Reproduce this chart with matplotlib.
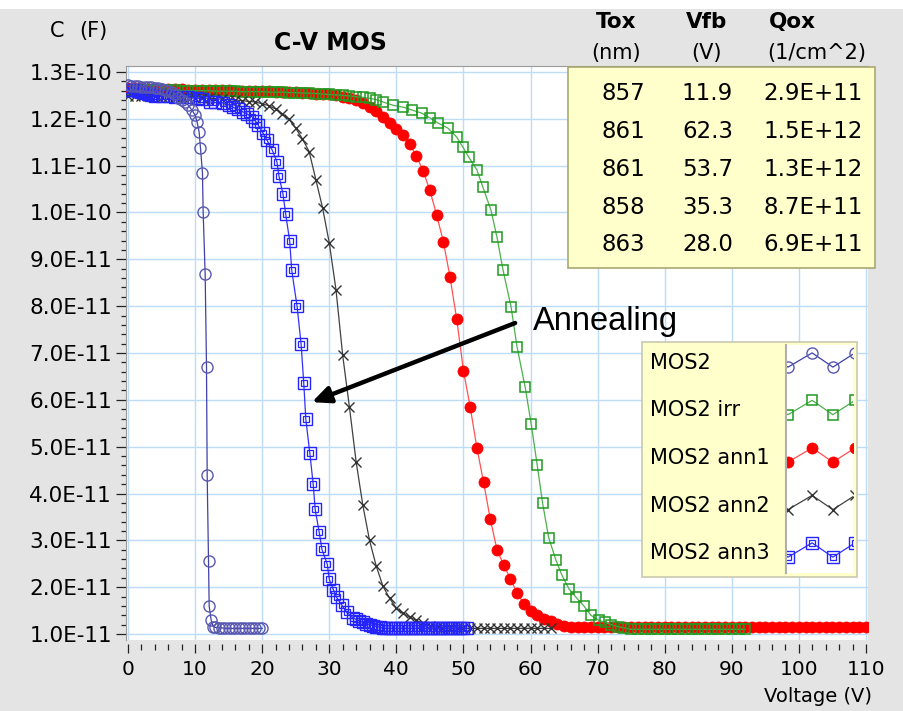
import matplotlib
matplotlib.use("Agg")
import matplotlib.pyplot as plt
from matplotlib.patches import Rectangle
from matplotlib.ticker import MultipleLocator, FuncFormatter

# capacitance values are in units of 1E-11 F
UNIT = 1e-11

# MOS2 (as made)
mos2_v = [0.0, 0.5, 1.0, 1.5, 2.0, 2.5, 3.0, 3.5, 4.0, 4.5, 5.0, 5.5, 6.0, 6.5, 7.0, 7.5,
          8.0, 8.5, 9.0, 9.5, 10.0, 10.3, 10.6, 10.8, 11.1, 11.2, 11.5, 11.7, 11.8, 12.0,
          12.1, 12.4, 12.7, 13.0, 13.5, 14.0, 14.5, 15.0, 15.5, 16.0, 16.5, 17.0, 17.5,
          18.0, 18.5, 19.0, 19.5, 20.0]
mos2_c = [12.72, 12.71, 12.70, 12.70, 12.69, 12.68, 12.68, 12.67, 12.66, 12.65, 12.64,
          12.62, 12.60, 12.57, 12.52, 12.45, 12.40, 12.35, 12.29, 12.19, 12.08, 11.93,
          11.72, 11.38, 10.84, 10.01, 8.68, 6.70, 4.39, 2.55, 1.59, 1.29, 1.16, 1.14,
          1.13, 1.13, 1.12, 1.12, 1.12, 1.12, 1.12, 1.12, 1.12, 1.12, 1.12, 1.12, 1.12, 1.12]

# MOS2 irradiated
irr_v = [0, 1, 2, 3, 4, 5, 6, 7, 8, 9, 10, 11, 12, 13, 14, 15, 16, 17, 18, 19, 20, 21, 22,
         23, 24, 25, 26, 27, 28, 29, 30, 31, 32, 33, 34, 35, 36, 37,
         38.0, 39.5, 41.0, 42.3, 43.8, 45.0, 46.2, 47.7, 49.0, 49.9, 50.8, 52.0, 52.9, 54.1,
         55.0, 55.9, 57.1, 58.0, 59.2, 60.1, 61.0, 61.8, 62.7, 63.8, 64.7, 65.7, 66.8, 68.0,
         69.0, 70.2, 71.1, 72.0, 73.0, 74.0,
         75, 76, 77, 78, 79, 80, 81, 82, 83, 84, 85, 86, 87, 88, 89, 90, 91, 92]
irr_c = [12.62, 12.62, 12.62, 12.62, 12.61, 12.61, 12.61, 12.61, 12.60, 12.60,
         12.60, 12.60, 12.60, 12.59, 12.59, 12.59, 12.59, 12.58, 12.58, 12.58,
         12.58, 12.57, 12.57, 12.57, 12.56, 12.56, 12.55, 12.55, 12.54, 12.53,
         12.52, 12.51, 12.50, 12.49, 12.47, 12.46, 12.44, 12.41,
         12.36, 12.29, 12.25, 12.19, 12.12, 12.02, 11.91, 11.80, 11.61, 11.40,
         11.18, 10.91, 10.54, 10.05, 9.47, 8.77, 7.98, 7.12, 6.27, 5.48,
         4.60, 3.79, 3.06, 2.57, 2.25, 1.97, 1.78, 1.59, 1.40, 1.29,
         1.25, 1.20, 1.16, 1.13,
         1.10, 1.10, 1.10, 1.10, 1.10, 1.10, 1.10, 1.10, 1.10, 1.10, 1.10, 1.10,
         1.10, 1.10, 1.10, 1.10, 1.10, 1.10]

# MOS2 anneal 1
ann1_v = [0, 1, 2, 3, 4, 5, 6, 7, 8, 9, 10, 11, 12, 13, 14, 15, 16, 17, 18, 19, 20,
          21, 22, 23, 24, 25, 26, 27, 28, 29, 30, 31, 32, 33, 34, 35, 36, 37, 38, 39, 40,
          41, 42, 43, 44, 45, 46, 47, 48, 49, 50, 51, 52, 53, 54, 55, 56, 57, 58, 59, 60,
          61, 62, 63, 64, 65, 66, 67, 68, 69, 70, 71, 72, 73, 74, 75, 76, 77, 78, 79, 80,
          81, 82, 83, 84, 85, 86, 87, 88, 89, 90, 91, 92, 93, 94, 95, 96, 97, 98, 99, 100,
          101, 102, 103, 104, 105, 106, 107, 108, 109, 110]
ann1_c = [12.65, 12.65, 12.65, 12.64, 12.64, 12.64, 12.63, 12.63, 12.63, 12.62, 12.62,
          12.62, 12.62, 12.61, 12.61, 12.61, 12.60, 12.60, 12.60, 12.59, 12.59,
          12.59, 12.58, 12.58, 12.57, 12.57, 12.56, 12.55, 12.54, 12.53, 12.52,
          12.50, 12.47, 12.44, 12.40, 12.34, 12.26, 12.16,
          12.04, 11.92, 11.79, 11.65, 11.46, 11.20, 10.88, 10.47, 9.95, 9.38,
          8.62, 7.72, 6.62, 5.85, 4.98, 4.24, 3.45, 2.80, 2.47, 2.18,
          1.87, 1.65, 1.50, 1.40, 1.33, 1.27, 1.21, 1.17, 1.15,
          1.14, 1.14, 1.14, 1.14, 1.14, 1.14, 1.14, 1.14, 1.14, 1.14, 1.14,
          1.14, 1.14, 1.14, 1.14, 1.14, 1.14, 1.14, 1.14, 1.14, 1.14, 1.14,
          1.14, 1.14, 1.14, 1.14, 1.14, 1.14, 1.14, 1.14, 1.14, 1.14, 1.14,
          1.14, 1.14, 1.14, 1.14, 1.14, 1.14, 1.14, 1.14, 1.14, 1.14, 1.14]

# MOS2 anneal 2
ann2_v = [0, 1, 2, 3, 4, 5, 6, 7, 8, 9, 10, 11, 12, 13, 14, 15, 16, 17, 18, 19, 20,
          21, 22, 23, 24, 25, 26, 27, 28, 29, 30, 31, 32, 33, 34, 35, 36, 37, 38, 39, 40,
          41, 42, 43, 44, 45, 46, 47, 48, 49, 50, 51, 52, 53, 54, 55, 56, 57, 58, 59, 60,
          61, 62, 63]
ann2_c = [12.49, 12.49, 12.48, 12.48, 12.48, 12.47, 12.47, 12.46, 12.46, 12.45,
          12.45, 12.44, 12.44, 12.43, 12.42, 12.41, 12.40, 12.39, 12.37, 12.36,
          12.32, 12.28, 12.21, 12.11, 11.99, 11.80, 11.57, 11.30, 10.70, 10.10,
          9.35, 8.35, 6.95, 5.85, 4.68, 3.75, 3.00, 2.45, 2.02, 1.76,
          1.55, 1.44, 1.36, 1.29, 1.23, 1.17, 1.14,
          1.12, 1.12, 1.12, 1.12, 1.12, 1.12, 1.12, 1.12, 1.12, 1.12, 1.12, 1.12,
          1.12, 1.12, 1.12, 1.12, 1.12]

# MOS2 anneal 3
ann3_v = [0.0, 0.5, 1.0, 1.5, 2.0, 2.5, 3.0, 3.5, 4.0, 5.0, 6.0, 7.0, 8.0, 9.0, 10.3, 11.0,
          12.2, 13.0, 14.2, 15.0, 15.6, 16.4, 17.1, 17.8, 18.5, 19.0, 19.4, 20.1, 20.7,
          21.5, 22.2, 22.5, 23.1, 23.5, 24.1, 24.4, 25.2, 25.8, 26.2, 26.5, 27.1, 27.6,
          27.9, 28.5, 28.9, 29.7, 30.0, 30.6, 31.1, 31.9, 32.6, 33.5, 34.0, 34.5, 35.0,
          35.5, 36.0, 36.5, 37.0, 37.5, 38.0, 38.5, 39.0, 39.5, 40.0, 40.5, 41.0, 41.5,
          42.0, 42.5, 43.0, 43.5, 44.0, 44.5, 45.0, 45.5, 46.0, 46.5, 47.0, 47.5, 48.0,
          48.5, 49.0, 49.5, 50.0, 50.5]
ann3_c = [12.62, 12.62, 12.61, 12.60, 12.58, 12.55, 12.52, 12.50, 12.49, 12.48, 12.48,
          12.47, 12.47, 12.46, 12.44, 12.42, 12.36, 12.35, 12.34, 12.30, 12.25, 12.20,
          12.15, 12.10, 12.04, 11.95, 11.87, 11.70, 11.55, 11.33, 11.08, 10.78, 10.39,
          9.97, 9.39, 8.77, 8.00, 7.19, 6.35, 5.59, 4.86, 4.20, 3.66, 3.17, 2.81, 2.49,
          2.17, 1.95, 1.78, 1.61, 1.46, 1.35, 1.31, 1.28, 1.25, 1.22, 1.20, 1.18, 1.16,
          1.15, 1.12, 1.12, 1.12, 1.12, 1.12, 1.12, 1.12, 1.12, 1.12, 1.12, 1.12, 1.12,
          1.12, 1.12, 1.12, 1.12, 1.12, 1.12, 1.12, 1.12, 1.12, 1.12, 1.12, 1.12, 1.12,
          1.12]

labels = ["MOS2", "MOS2 irr", "MOS2 ann1", "MOS2 ann2", "MOS2 ann3"]

# fitted parameters shown in the table
tox = [857, 861, 861, 858, 863]
vfb = [11.9, 62.3, 53.7, 35.3, 28.0]
qox = [2.9e11, 1.5e12, 1.3e12, 8.7e11, 6.9e11]

W, H = 904, 711
def fx(px):
    return px / W
def fy(py):
    return 1 - py / H

# marker styles for each series (legend order)
styles = [
    dict(color="#4040a8", lw=0.9, marker="o", ms=8, mfc="none", mec="#5858b0", mew=1.0),
    dict(color="#4cb04c", lw=0.9, marker="s", ms=7.5, mfc="none", mec="#1f9a1f", mew=1.1),
    dict(color="#ff5050", lw=0.9, marker="o", ms=8, mfc="#ff0000", mec="#ff0000", mew=0.5),
    dict(color="#404040", lw=0.9, marker="x", ms=7.5, mfc="none", mec="#333333", mew=1.0),
    dict(color="#3030ff", lw=0.9, marker="s", ms=8.5, mfc="none", mec="#2424ff", mew=1.0),
]
inner_sq = dict(ls="none", marker="s", ms=4.5, mfc="none", mec="#2424ff", mew=0.9)

series = [(mos2_v, mos2_c), (irr_v, irr_c), (ann1_v, ann1_c), (ann2_v, ann2_c), (ann3_v, ann3_c)]
zorders = [6, 4, 3, 4.5, 5]

plt.rcParams["font.family"] = ["DejaVu Sans"]

fig = plt.figure(figsize=(W / 100, H / 100), dpi=100, facecolor="#e4e4e4")
fig.patches.append(Rectangle((0, fy(9)), 1, 9 / H, transform=fig.transFigure,
                             facecolor="white", edgecolor="none", zorder=0))

ax = fig.add_axes([fx(126), fy(640), fx(868) - fx(126), fy(66) - fy(640)])
ax.set_facecolor("white")

for i, ((v, c), st) in enumerate(zip(series, styles)):
    cc = [x * UNIT for x in c]
    ax.plot(v, cc, zorder=zorders[i], **st)
    if i == 4:
        ax.plot(v, cc, zorder=zorders[i], **inner_sq)

ax.set_xlim(-0.3, 110.3)
ax.set_ylim(0.872 * UNIT, 13.128 * UNIT)
ax.xaxis.set_major_locator(MultipleLocator(10))
ax.xaxis.set_minor_locator(MultipleLocator(2))
ax.yaxis.set_major_locator(MultipleLocator(1 * UNIT))
ax.yaxis.set_minor_locator(MultipleLocator(0.2 * UNIT))
ax.yaxis.set_major_formatter(FuncFormatter(lambda y, p: format(y, ".1E")))
ax.yaxis.offsetText.set_visible(False)
ax.grid(True, which="major", color="#bcdcf8", lw=1.0)
ax.set_axisbelow(True)

for s in ["right", "bottom"]:
    ax.spines[s].set_visible(False)
ax.spines["bottom"].set_position(("outward", 3))
for s in ["left", "top"]:
    ax.spines[s].set_color("#9a9a9a")
ax.tick_params(axis="y", which="major", length=7, width=0.9, pad=3, labelsize=15.5, color="#222222")
ax.tick_params(axis="y", which="minor", length=3.6, width=0.9, color="#222222")
ax.tick_params(axis="x", which="major", length=6.5, width=0.9, pad=5, labelsize=14.5, color="#222222")
ax.tick_params(axis="x", which="minor", length=4.5, width=0.9, color="#222222")

# annealing arrow
ax.annotate("", xy=(27.4, 5.95 * UNIT), xytext=(57.7, 7.64 * UNIT),
            arrowprops=dict(arrowstyle="-|>,head_length=0.55,head_width=0.25",
                            lw=3.2, color="black", shrinkA=0, shrinkB=0,
                            mutation_scale=20), zorder=8)
ax.text(60.4, 7.49 * UNIT, "Annealing", fontsize=23.5, family="Liberation Sans",
        va="baseline", ha="left", zorder=8)

# titles and axis names
fig.text(fx(330), fy(43), "C-V MOS", fontsize=17, fontweight="bold", ha="center", va="center")
fig.text(fx(50), fy(31), "C", fontsize=15, ha="left", va="center")
fig.text(fx(79), fy(31), "(F)", fontsize=15, ha="left", va="center")
fig.text(fx(818), fy(697), "Voltage (V)", fontsize=14, ha="center", va="center")

# parameter table
fig.patches.append(Rectangle((fx(568), fy(268)), fx(875) - fx(568), fy(67) - fy(268),
                             transform=fig.transFigure, facecolor="#ffffcc",
                             edgecolor="#a8a870", lw=1.2, zorder=2))
heads = [("Tox", "(nm)", 616), ("Vfb", "(V)", 707), ("Qox", "(1/cm^2)", 817)]
for name, unit, x in heads:
    fig.text(fx(x if name != "Qox" else 792), fy(22), name, fontsize=15.5, fontweight="bold",
             ha="center", va="center")
    fig.text(fx(x), fy(53), unit, fontsize=15, ha="center", va="center")
for k in range(len(tox)):
    y = fy(93 + 38 * k)
    fig.text(fx(645), y, str(tox[k]), fontsize=16.5, ha="right", va="center", zorder=3)
    fig.text(fx(733), y, f"{vfb[k]:.1f}", fontsize=16.5, ha="right", va="center", zorder=3)
    fig.text(fx(863), y, format(qox[k], ".1E"), fontsize=16.5, ha="right", va="center", zorder=3)

# legend box with zigzag samples
fig.patches.append(Rectangle((fx(642), fy(577)), fx(857) - fx(642), fy(342) - fy(577),
                             transform=fig.transFigure, facecolor="#ffffcc",
                             edgecolor="#c8c8b0", lw=1.2, zorder=2))
lax = fig.add_axes([fx(786), fy(573), fx(853) - fx(786), fy(345) - fy(573)], zorder=5)
lax.set_facecolor("white")
lax.set_xlim(0, 1)
lax.set_ylim(4.484, -0.316)
lax.set_xticks([])
lax.set_yticks([])
for s in ["right", "top", "bottom"]:
    lax.spines[s].set_visible(False)
lax.spines["left"].set_color("#b0b0b0")
lax.spines["left"].set_linewidth(1.5)
zx = [-0.30, 0.03, 0.39, 0.70, 1.03]
zy = [-0.15, 0.15, -0.15, 0.15, -0.15]
for i, st in enumerate(styles):
    yy = [i + d for d in zy]
    lax.plot(zx, yy, **st)
    if i == 4:
        lax.plot(zx, yy, **inner_sq)
    fig.text(fx(650), fy(363 + 47.5 * i), labels[i], fontsize=15, ha="left", va="center", zorder=3)

fig.savefig("out.png", dpi=100, facecolor=fig.get_facecolor())
